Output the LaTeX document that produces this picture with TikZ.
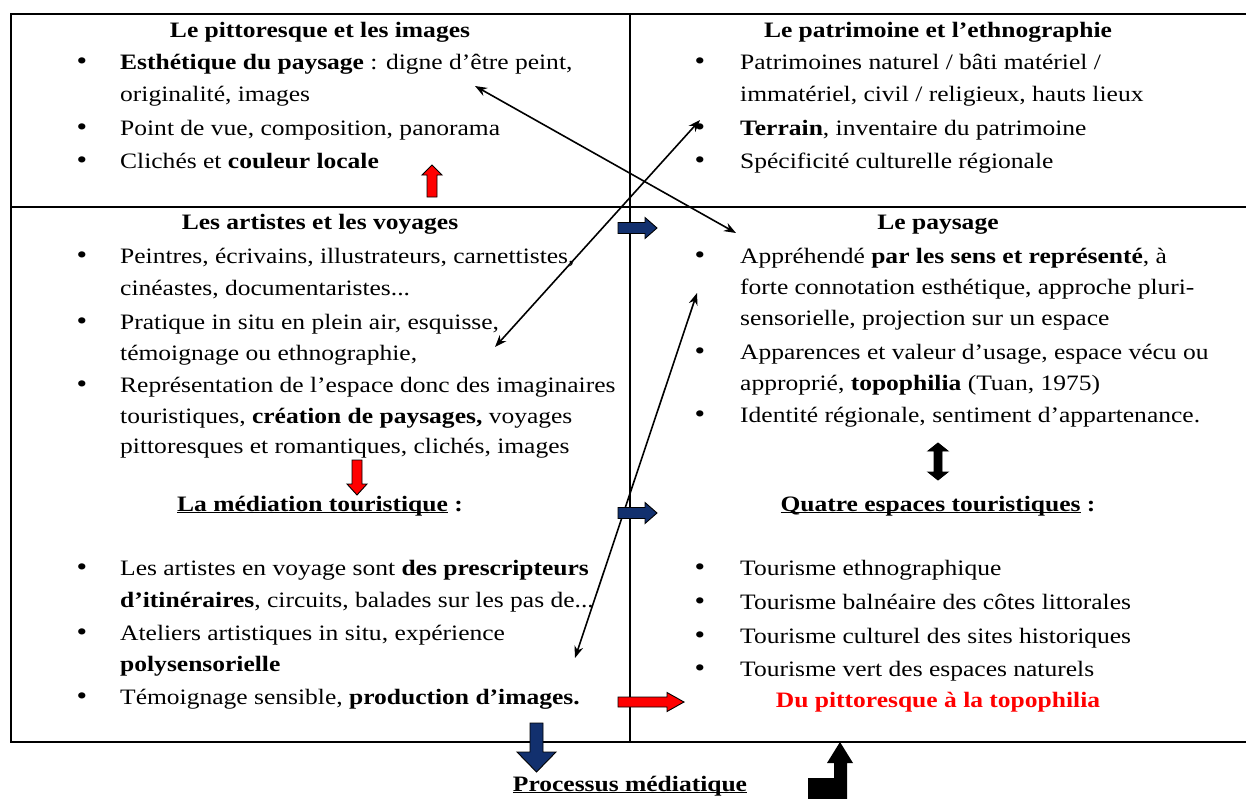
\documentclass[tikz,border=0pt]{standalone}
\usepackage{fontspec}
\setmainfont{Liberation Serif}[FakeStretch=1.16]
\usetikzlibrary{arrows.meta}
\definecolor{navy}{HTML}{12306E}
\definecolor{rred}{HTML}{FF0000}
\newcommand{\fs}{\fontsize{22}{26}\selectfont}
\newcommand{\ulin}[1]{\underline{\smash{#1}}}
\begin{document}
\begin{tikzpicture}[x=1pt,y=-1pt,
 txt/.style={anchor=base west,inner sep=0pt,font=\fs},
 hdr/.style={anchor=base,inner sep=0pt,font=\fs\bfseries},
 bul/.style={anchor=base,inner sep=0pt,font=\fontsize{26}{26}\selectfont},
 link/.style={line width=1.6pt,{Stealth[length=12pt,width=9pt]}-{Stealth[length=12pt,width=9pt]}},
 frame/.style={line width=1.8pt},
 blk/.style={draw=black,line width=0.9pt,line join=miter}
]
\useasboundingbox (0,0) rectangle (1246,798);
% frame
\draw[frame] (1246,14) -- (11,14) -- (11,742) -- (1246,742);
\draw[frame] (11,207) -- (1246,207);
\draw[frame] (630,14) -- (630,742);

% top-left
\node[hdr] (h1) at (320,37) {Le pittoresque et les images};
\foreach \y/\n in {69/a,135/b,168/c} \node[bul] (bl\n) at (82,\y) {\textbullet};
\node[txt] (t1a) at (120,69) {\textbf{Esthétique du paysage} : digne d'être peint,};
\node[txt] (t1b) at (120,101) {originalité, images};
\node[txt] (t1c) at (120,135) {Point de vue, composition, panorama};
\node[txt] (t1d) at (120,168) {Clichés et \textbf{couleur locale}};

% top-right
\node[hdr] (h2) at (938,37) {Le patrimoine et l'ethnographie};
\foreach \y/\n in {69/a,135/b,168/c} \node[bul] (br\n) at (700,\y) {\textbullet};
\node[txt] (t2a) at (740,69) {Patrimoines naturel / bâti matériel /};
\node[txt] (t2b) at (740,101) {immatériel, civil / religieux, hauts lieux};
\node[txt] (t2c) at (740,135) {\textbf{Terrain}, inventaire du patrimoine};
\node[txt] (t2d) at (740,168) {Spécificité culturelle régionale};

% middle-left
\node[hdr] (h3) at (320,229) {Les artistes et les voyages};
\foreach \y/\n in {263/a,329/b,392/c,575/d,640/e,704/f} \node[bul] (bml\n) at (82,\y) {\textbullet};
\node[txt] (t3a) at (120,263) {Peintres, écrivains, illustrateurs, carnettistes,};
\node[txt] (t3b) at (120,295) {cinéastes, documentaristes...};
\node[txt] (t3c) at (120,329) {Pratique in situ en plein air, esquisse,};
\node[txt] (t3d) at (120,360) {témoignage ou ethnographie,};
\node[txt] (t3e) at (120,392) {Représentation de l'espace donc des imaginaires};
\node[txt] (t3f) at (120,423) {touristiques, \textbf{création de paysages,} voyages};
\node[txt] (t3g) at (120,453) {pittoresques et romantiques, clichés, images};
\node[hdr] (h5) at (320,511) {\ulin{La médiation touristique} :};
\node[txt] (t5a) at (120,575) {Les artistes en voyage sont \textbf{des prescripteurs}};
\node[txt] (t5b) at (120,607) {\textbf{d’itinéraires}, circuits, balades sur les pas de...};
\node[txt] (t5c) at (120,640) {Ateliers artistiques in situ, expérience};
\node[txt] (t5d) at (120,671) {\textbf{polysensorielle}};
\node[txt] (t5e) at (120,704) {Témoignage sensible, \textbf{production d'images.}};

% middle-right
\node[hdr] (h4) at (938,229) {Le paysage};
\foreach \y/\n in {263/a,359/b,422/c,575/d,609/e,643/f,676/g} \node[bul] (bmr\n) at (700,\y) {\textbullet};
\node[txt] (t4a) at (740,263) {Appréhendé \textbf{par les sens et représenté}, à};
\node[txt] (t4b) at (740,294) {forte connotation esthétique, approche pluri-};
\node[txt] (t4c) at (740,325) {sensorielle, projection sur un espace};
\node[txt] (t4d) at (740,359) {Apparences et valeur d'usage, espace vécu ou};
\node[txt] (t4e) at (740,390) {approprié, \textbf{topophilia} (Tuan, 1975)};
\node[txt] (t4f) at (740,422) {Identité régionale, sentiment d'appartenance.};
\node[hdr] (h6) at (938,511) {\ulin{Quatre espaces touristiques} :};
\node[txt] (t6a) at (740,575) {Tourisme ethnographique};
\node[txt] (t6b) at (740,609) {Tourisme balnéaire des côtes littorales};
\node[txt] (t6c) at (740,643) {Tourisme culturel des sites historiques};
\node[txt] (t6d) at (740,676) {Tourisme vert des espaces naturels};
\node[hdr,text=rred] (t6e) at (938,707) {Du pittoresque à la topophilia};

\node[hdr] (pm) at (630,791) {\ulin{Processus médiatique}};

% thin links
\coordinate (p1) at (475,86);  \coordinate (q1) at (736,233);
\coordinate (p2) at (700,120); \coordinate (q2) at (495,347);
\coordinate (p3) at (697,293); \coordinate (q3) at (575,658);
\draw[link] (p1) -- (q1);
\draw[link] (p2) -- (q2);
\draw[link] (p3) -- (q3);

% block arrows
\filldraw[blk,fill=navy] (618,222.5) -- (645,222.5) -- (645,217.5) -- (657,228) -- (645,238.5) -- (645,233.5) -- (618,233.5) -- cycle;
\filldraw[blk,fill=navy] (618,507.5) -- (645,507.5) -- (645,502.5) -- (657,513) -- (645,523.5) -- (645,518.5) -- (618,518.5) -- cycle;
\filldraw[blk,fill=rred] (618,697) -- (667,697) -- (667,692.5) -- (684,702) -- (667,711.5) -- (667,707) -- (618,707) -- cycle;
\filldraw[blk,fill=rred] (427,197) -- (427,175) -- (422,175) -- (432,165) -- (442,175) -- (437,175) -- (437,197) -- cycle;
\filldraw[blk,fill=rred] (352,460) -- (352,484) -- (347,484) -- (357,495) -- (367,484) -- (362,484) -- (362,460) -- cycle;
\filldraw[blk,fill=black] (938,443) -- (948,451) -- (942,451) -- (942,472) -- (948,472) -- (938,480) -- (928,472) -- (934,472) -- (934,451) -- (928,451) -- cycle;
\filldraw[blk,fill=navy] (530,723) -- (543,723) -- (543,752) -- (556,752) -- (536.5,772) -- (517,752) -- (530,752) -- cycle;
\fill[black] (840,742) -- (853,763) -- (847,763) -- (847,800) -- (808,800) -- (808,778) -- (834,778) -- (834,763) -- (827,763) -- cycle;
\end{tikzpicture}
\end{document}
